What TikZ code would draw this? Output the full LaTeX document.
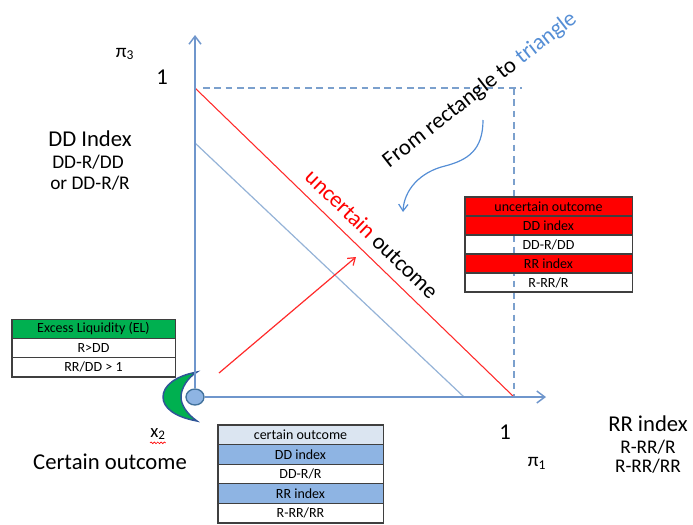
\documentclass[tikz,border=0pt]{standalone}
\usepackage{fontspec}
\setmainfont{Carlito}
\usetikzlibrary{arrows.meta,shapes.geometric,decorations.pathmorphing}
\definecolor{axisblue}{HTML}{6F96CC}
\definecolor{lineblue}{HTML}{95B3D7}
\definecolor{dashblue}{HTML}{7BA0CD}
\definecolor{myred}{HTML}{FF2A2A}
\definecolor{elgreen}{HTML}{00B050}
\definecolor{paleblue}{HTML}{DBE5F1}
\definecolor{midblue}{HTML}{8EB4E3}
\definecolor{circline}{HTML}{41719C}
\definecolor{moonline}{HTML}{2F5597}
\definecolor{tabline}{HTML}{3F3F3F}
\definecolor{tri}{HTML}{558ED5}
\begin{document}
\begin{tikzpicture}[x=0.75pt,y=-0.75pt,
  axis/.style={draw=axisblue,line width=1.1pt,-{Straight Barb[length=6pt,width=9pt]}},
  cell/.style={draw=tabline,line width=0.8pt,inner sep=0pt,text=black,font=\fontsize{10.5}{12}\selectfont},
  gcell/.style={cell,minimum width=122.3pt,minimum height=14.5pt},
  bcell/.style={cell,minimum width=123.8pt,minimum height=14.7pt},
  rcell/.style={cell,minimum width=125.3pt,minimum height=14.25pt},
  big/.style={inner sep=0pt,font=\fontsize{17}{20}\selectfont},
  mid/.style={inner sep=0pt,font=\fontsize{14.5}{17}\selectfont},
  dashln/.style={draw=dashblue,line width=1pt,dash pattern=on 5pt off 3.5pt},
]
\useasboundingbox (0,0) rectangle (693,525);

% coordinates
\coordinate (ytip) at (195,35);
\coordinate (xtip) at (546,397);
\coordinate (r1) at (195,88);
\coordinate (r2) at (514,397);
\coordinate (b1) at (195,143);
\coordinate (b2) at (464,397);
\coordinate (d1) at (203,88);
\coordinate (d2) at (522,88);
\coordinate (d3) at (514,88);
\coordinate (d4) at (514,397);
\coordinate (a1) at (219,373);
\coordinate (a2) at (356,257);
\coordinate (c1) at (483,120);
\coordinate (c2) at (403,212);

% dashed rectangle
\draw[dashln] (d1) -- (d2);
\draw[dashln] (d3) -- (d4);

% diagonal lines
\draw[myred,line width=0.8pt] (r1) -- (r2);
\draw[lineblue,line width=0.9pt] (b1) -- (b2);

% red arrow
\draw[myred,line width=0.9pt,-{Straight Barb[length=5pt,width=7pt]}] (a1) -- (a2);

% curved arrow
\draw[tri,line width=0.9pt,-{Straight Barb[length=5pt,width=7pt]}] (c1) .. controls (483,150) and (468,160) .. (445,166) .. controls (420,172) and (404,190) .. (c2);

% crescent
\draw[fill=elgreen,draw=moonline,line width=1.1pt]
  (197,372) .. controls (175,376) and (163,386) .. (163,397)
  .. controls (163,408) and (175,417) .. (197,421)
  .. controls (187,414) and (181,405) .. (181,397)
  .. controls (181,389) and (187,378) .. (197,372) -- cycle;

% origin
\node[ellipse,draw=circline,fill=midblue,line width=1pt,minimum width=13.5pt,minimum height=12pt,inner sep=0pt] (o) at (195,397) {};

% axes
\draw[axis] (o.north) -- (ytip);
\draw[axis] (o.east) -- (xtip);

% axis labels
\node[mid] (p3) at (125,54) {π\textsubscript{3}};
\node[big] (one3) at (162,77) {1};
\node[big] (one1) at (505,432) {1};
\node[mid] (p1) at (537,463) {π\textsubscript{1}};
\node[inner sep=0pt,font=\fontsize{14}{16}\selectfont] (x2) at (158,434) {x\textsubscript{2}};
\draw[red,line width=0.5pt,decorate,decoration={snake,amplitude=0.6pt,segment length=2.5pt}] ([yshift=-2pt]x2.south west) -- ([yshift=-2pt]x2.south east);

\node[big] (co) at (110,462) {Certain outcome};
\node[big] (ddi) at (90,139) {DD Index};
\node[mid] (dd1) at (88,162) {DD-R/DD};
\node[mid] (dd2) at (90,183) {or DD-R/R};
\node[big] (rri) at (648,424) {RR index};
\node[mid] (rr1) at (648,447) {R-RR/R};
\node[mid] (rr2) at (648,466) {R-RR/RR};

% rotated texts
\node[big,rotate=38] (frt) at (480,90) {From rectangle to \textcolor{tri}{triangle}};
\node[big,rotate=-44] (uo) at (372,234) {\textcolor{red}{uncertain} outcome};

% green table
\node[gcell,fill=elgreen] (g1) at (93.5,328.7) {Excess Liquidity (EL)};
\node[gcell] (g2) at (93.5,348) {R>DD};
\node[gcell] (g3) at (93.5,367.3) {RR/DD > 1};

% bottom table
\node[bcell,fill=paleblue] (t1) at (300.5,434.8) {certain outcome};
\node[bcell,fill=midblue] (t2) at (300.5,454.4) {DD index};
\node[bcell] (t3) at (300.5,474) {DD-R/R};
\node[bcell,fill=midblue] (t4) at (300.5,493.6) {RR index};
\node[bcell] (t5) at (300.5,513.2) {R-RR/RR};

% red table
\node[rcell,fill=red] (u1) at (548.5,206.5) {uncertain outcome};
\node[rcell,fill=red] (u2) at (548.5,225.5) {DD index};
\node[rcell] (u3) at (548.5,244.5) {DD-R/DD};
\node[rcell,fill=red] (u4) at (548.5,263.5) {RR index};
\node[rcell] (u5) at (548.5,282.5) {R-RR/R};
\end{tikzpicture}
\end{document}
